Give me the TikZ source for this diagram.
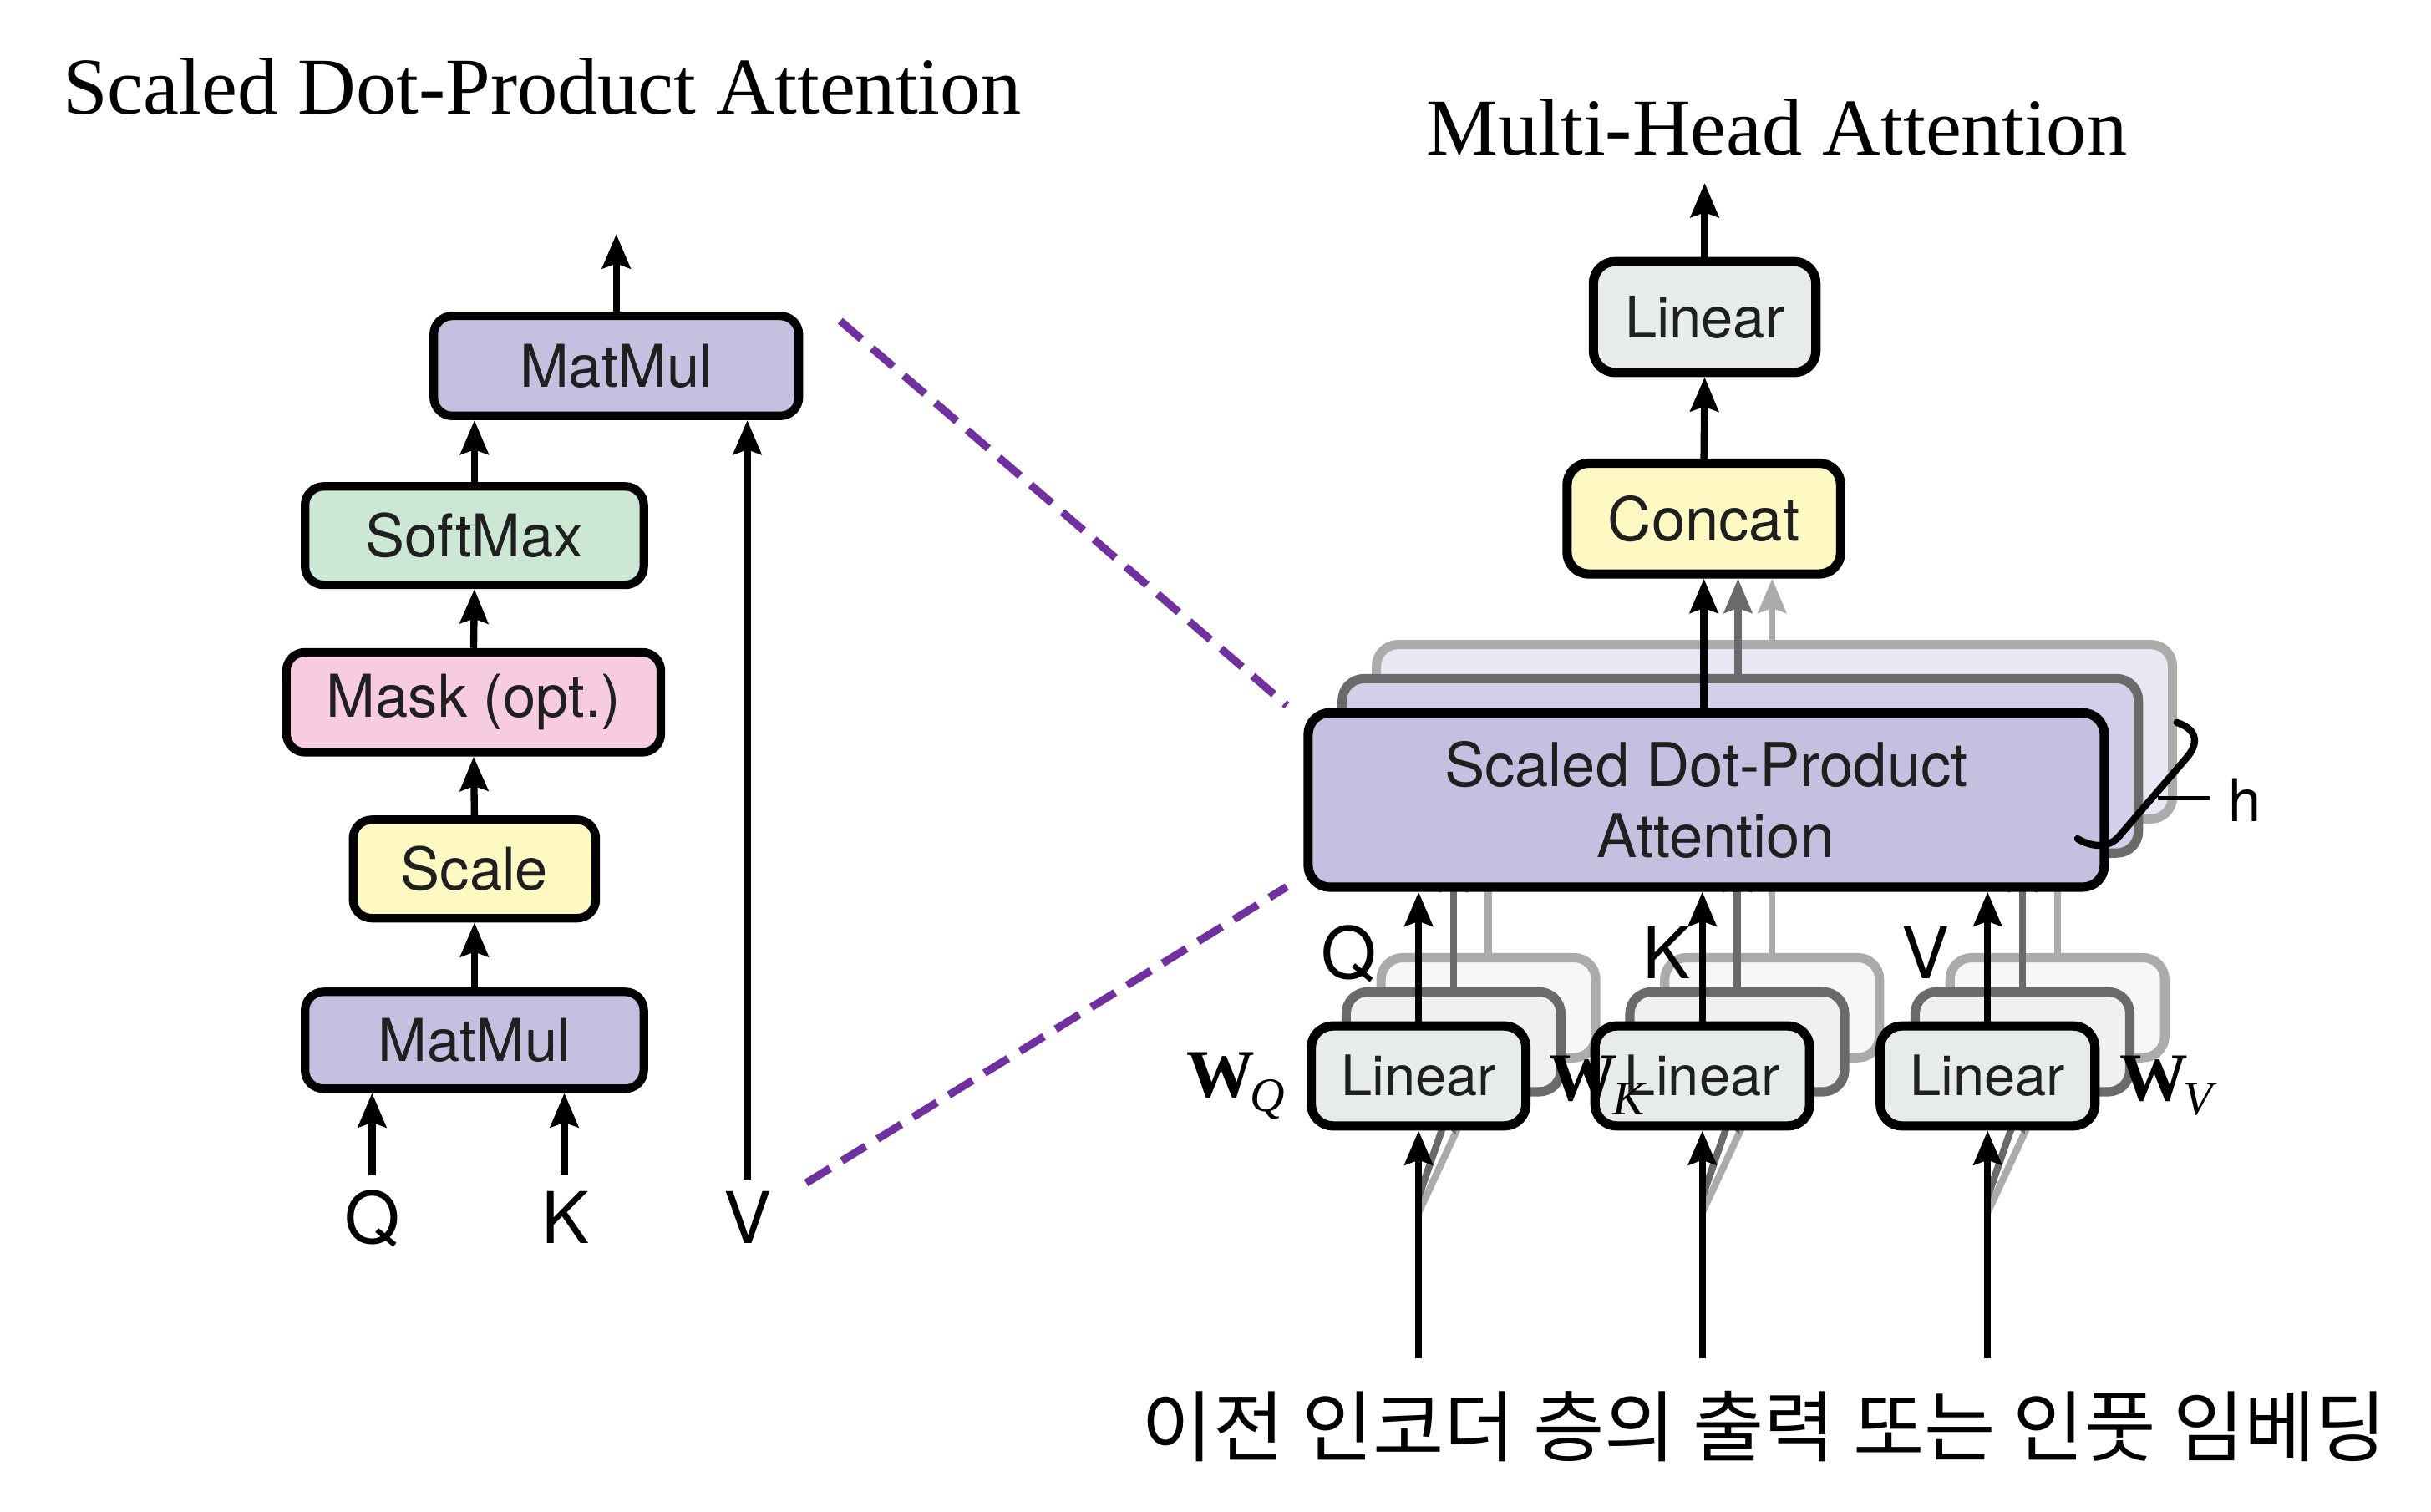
\documentclass[tikz,border=0pt]{standalone}
\usepackage{fontspec}
\setmainfont{Liberation Serif}
\newfontfamily\helv{TeX Gyre Heros}
\newfontfamily\kor{Noto Sans CJK KR}
\usetikzlibrary{arrows.meta}
\definecolor{cpurple}{HTML}{C5BFE0}
\definecolor{cpurpleM}{HTML}{D3CEE9}
\definecolor{cpurpleB}{HTML}{E9E7F4}
\definecolor{cgreen}{HTML}{CCE8D5}
\definecolor{cpink}{HTML}{F7CCE0}
\definecolor{cyellow}{HTML}{FEF8C3}
\definecolor{clin}{HTML}{E7ECEA}
\definecolor{clinM}{HTML}{EEF1F0}
\definecolor{clinB}{HTML}{F6F8F7}
\definecolor{cgrayM}{HTML}{6A6A6A}
\definecolor{cgrayB}{HTML}{ABABAB}
\definecolor{cviolet}{HTML}{7030A0}
\tikzset{
  opbox/.style={draw, line width=5.5pt, rounded corners=12pt, inner sep=0pt, text=black!88, font=\helv\fontsize{38}{44}\selectfont},
  boxsize/.style 2 args={minimum width=#1pt-5.5pt, minimum height=#2pt-5.5pt},
  rbox/.style={opbox, line width=6pt, rounded corners=14pt},
  arr/.style={line width=4.5pt, -{Stealth[length=22pt,width=18pt,inset=3pt]}},
  lbl/.style={inner sep=0pt, anchor=base, font=\helv\fontsize{46}{50}\selectfont},
  ttl/.style={inner sep=0pt, anchor=base, font=\fontsize{52}{60}\selectfont},
  wlbl/.style={inner sep=0pt, anchor=base west, font=\fontsize{44}{48}\selectfont},
  pdash/.style={draw=cviolet, line width=5pt, dash pattern=on 18pt off 9pt},
  sdpabox/.style={rbox, boxsize={519}{118}},
  linbox/.style={rbox, boxsize={144}{70}, font=\helv\fontsize{36}{40}\selectfont},
  layM/.style={draw=cgrayM},
  layB/.style={draw=cgrayB},
}
\newcommand{\wsub}[2]{\textbf{#1}\kern-3pt\raisebox{-9pt}{\fontsize{31}{31}\selectfont\itshape #2}}
\begin{document}
\begin{tikzpicture}[x=1pt,y=-1pt]
\fill[white] (0,0) rectangle (1568,975);
\path[use as bounding box] (0,0) rectangle (1568,975);

% ---------- titles ----------
\node[ttl] (t1) at (349.5,73.5) {Scaled Dot-Product Attention};
\node[ttl] (t2) at (1146,100) {Multi-Head Attention};

% ---------- left: scaled dot-product attention ----------
\node[opbox, fill=cpurple, boxsize={241}{70}] (mmB) at (397.5,236) {MatMul};
\node[opbox, fill=cgreen, boxsize={224}{69}] (sm) at (306,345.5) {SoftMax};
\node[opbox, fill=cpink, boxsize={247}{70}] (mask) at (305.5,453) {Mask (opt.)};
\node[opbox, fill=cyellow, boxsize={162}{69}] (scl) at (306,560.5) {Scale};
\node[opbox, fill=cpurple, boxsize={224}{68}] (mmA) at (306,671) {MatMul};

\coordinate (outL) at (397.5,151);
\coordinate (qin) at (240,758);
\coordinate (kin) at (364,758);
\coordinate (vin) at (482,761);

\draw[arr] (mmA.north) -- (scl.south);
\draw[arr] (scl.north) -- (mask.south);
\draw[arr] (mask.north) -- (sm.south);
\draw[arr] (sm.north) -- (sm.north |- mmB.south);
\draw[arr] (mmB.north) -- (outL);
\draw[arr] (qin) -- (qin |- mmA.south);
\draw[arr] (kin) -- (kin |- mmA.south);
\draw[arr] (vin) -- (vin |- mmB.south);

\node[lbl] (lq) at (240,802) {Q};
\node[lbl] (lk) at (365,802) {K};
\node[lbl] (lv) at (482,802) {V};

% ---------- dashed zoom lines ----------
\coordinate (da1) at (542,207);
\coordinate (da2) at (830,455);
\coordinate (db1) at (520,763);
\coordinate (db2) at (830,572);
\draw[pdash] (da1) -- (da2);
\draw[pdash] (db1) -- (db2);

% ---------- right: multi-head attention ----------
% back layer
\node[sdpabox, layB, fill=cpurpleB] (sdB) at (1144.5,472) {};
\foreach \n/\x in {qB/960, kB/1143, vB/1327}{
  \node[linbox, layB, fill=clinB] (\n) at (\x,650) {};
}
\foreach \n/\x in {qB/960, kB/1143, vB/1327}{
  \draw[arr, cgrayB] (\n.north) -- (\n.north |- sdB.south);
  \coordinate (\n s) at (\x-45,782);
  \draw[arr, cgrayB] (\n s) -- (\n.south);
}
% middle layer
\node[sdpabox, layM, fill=cpurpleM] (sdM) at (1122.5,494) {};
\foreach \n/\x in {qM/937.5, kM/1120.5, vM/1304.5}{
  \node[linbox, layM, fill=clinM] (\n) at (\x,672) {};
}
\foreach \n/\x in {qM/937.5, kM/1120.5, vM/1304.5}{
  \draw[arr, cgrayM] (\n.north) -- (\n.north |- sdM.south);
  \coordinate (\n s) at (\x-22.5,772);
  \draw[arr, cgrayM] (\n s) -- (\n.south);
}
% front layer
\node[sdpabox, fill=cpurple, align=center, font=\helv\fontsize{39}{46}\selectfont] (sdF) at (1100.5,516) {Scaled Dot-Product\\\hspace*{12pt}Attention};
\node[linbox, fill=clin] (linQ) at (915,694) {Linear};
\node[linbox, fill=clin] (linK) at (1098,694) {Linear};
\node[linbox, fill=clin] (linV) at (1282,694) {Linear};

\coordinate (inQ) at (915,876);
\coordinate (inK) at (1098,876);
\coordinate (inV) at (1282,876);
\draw[arr] (inQ) -- (linQ.south);
\draw[arr] (inK) -- (linK.south);
\draw[arr] (inV) -- (linV.south);
\draw[arr] (linQ.north) -- (linQ.north |- sdF.south);
\draw[arr] (linK.north) -- (linK.north |- sdF.south);
\draw[arr] (linV.north) -- (linV.north |- sdF.south);

% concat / linear
\node[rbox, fill=cyellow, boxsize={182}{77}, font=\helv\fontsize{39}{44}\selectfont] (cat) at (1099,334.5) {Concat};
\node[rbox, fill=clin, boxsize={149}{77}, font=\helv\fontsize{37}{44}\selectfont] (linO) at (1099.5,204.5) {Linear};
\coordinate (outR) at (1099.5,118);
\coordinate (gxM) at (1121,0);
\coordinate (gxB) at (1143,0);
\draw[arr, cgrayB] (gxB |- sdB.north) -- (gxB |- cat.south);
\draw[arr, cgrayM] (gxM |- sdM.north) -- (gxM |- cat.south);
\draw[arr] (cat.south |- sdF.north) -- (cat.south);
\draw[arr] (cat.north) -- (linO.south);
\draw[arr] (linO.north) -- (outR);

% labels
\node[lbl] (rq) at (870,631) {Q};
\node[lbl] (rk) at (1075,631) {K};
\node[lbl] (rv) at (1242,631) {V};
\node[wlbl] (wq) at (765,708) {\wsub{W}{Q}};
\node[wlbl] (wk) at (999,710) {\wsub{W}{K}};
\node[wlbl] (wv) at (1367,710) {\wsub{W}{V}};

% h bracket
\draw[line width=4.5pt, line cap=round] (1404,466) .. controls (1416,470) and (1419,478) .. (1411,488) -- (1368,538) .. controls (1362,546) and (1352,548) .. (1340,541);
\coordinate (hl1) at (1392,515);
\coordinate (hl2) at (1425,515);
\draw[line width=2.5pt] (hl1) -- (hl2);
\node[lbl, font=\helv\fontsize{38}{44}\selectfont] (hh) at (1448,530) {h};

% korean caption
\node[inner sep=0pt, font=\kor\fontsize{50}{56}\selectfont] (kr) at (1138,920) {이전 인코더 층의 출력 또는 인풋 임베딩};
\end{tikzpicture}
\end{document}
